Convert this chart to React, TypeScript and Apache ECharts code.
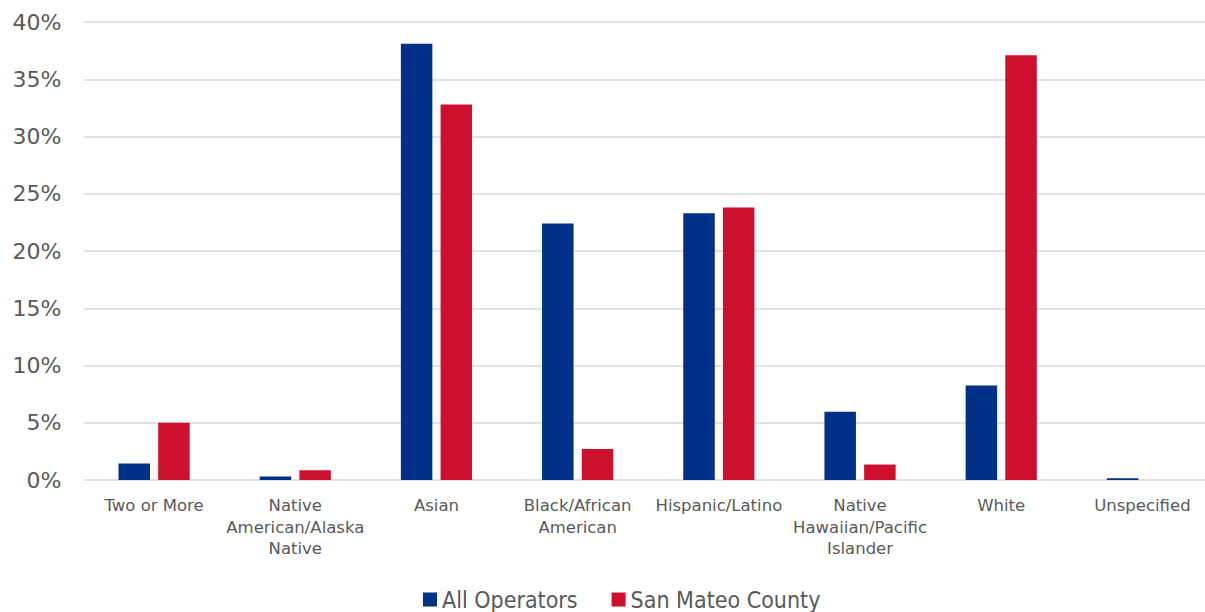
import React, { useEffect, useRef } from "react";
import * as echarts from "echarts";

// Share of each race/ethnicity group, in percent
const categories = [
  "Two or More",
  "Native\nAmerican/Alaska\nNative",
  "Asian",
  "Black/African\nAmerican",
  "Hispanic/Latino",
  "Native\nHawaiian/Pacific\nIslander",
  "White",
  "Unspecified",
];
const allOperators = [1.45, 0.3, 38.1, 22.4, 23.3, 5.95, 8.25, 0.15];
const sanMateoCounty = [5.0, 0.85, 32.8, 2.7, 23.8, 1.35, 37.1, 0];
const yTicks = { min: 0, max: 40, interval: 5 };

const BLUE = "#003087";
const RED = "#CE0F2E";
const TEXT = "#595959";

export default function App() {
  const ref = useRef<HTMLDivElement>(null);

  useEffect(() => {
    if (!ref.current) return;
    const chart = echarts.init(ref.current, null, { renderer: "svg" });
    chart.setOption({
      animation: false,
      backgroundColor: "#ffffff",
      // plot runs slightly past the visible right edge
      grid: { left: 83.5, top: 22, right: 0, bottom: 132 },
      legend: {
        left: 418,
        top: 583,
        itemWidth: 14,
        itemHeight: 14,
        itemGap: 34,
        icon: "rect",
        textStyle: {
          fontFamily: "'DejaVu Sans Condensed', 'DejaVu Sans', sans-serif",
          fontSize: 23,
          color: TEXT,
        },
        data: ["All Operators", "San Mateo County"],
      },
      xAxis: {
        type: "category",
        data: categories,
        axisLine: { show: false },
        axisTick: { show: false },
        axisLabel: {
          interval: 0,
          color: TEXT,
          fontFamily: "'DejaVu Sans', sans-serif",
          fontSize: 16.5,
          lineHeight: 21.5,
          margin: 15,
        },
      },
      yAxis: {
        type: "value",
        min: yTicks.min,
        max: yTicks.max,
        interval: yTicks.interval,
        axisLabel: {
          formatter: "{value}%",
          color: TEXT,
          fontFamily: "'DejaVu Sans', sans-serif",
          fontSize: 22,
          margin: 22,
        },
        splitLine: { lineStyle: { color: "#D9D9D9", width: 1.5 } },
      },
      series: [
        {
          name: "All Operators",
          type: "bar",
          data: allOperators,
          barWidth: 31.5,
          barGap: "26%",
          itemStyle: { color: BLUE },
        },
        {
          name: "San Mateo County",
          type: "bar",
          data: sanMateoCounty,
          barWidth: 31.5,
          barGap: "26%",
          itemStyle: { color: RED },
        },
      ],
    });
    return () => chart.dispose();
  }, []);

  return (
    <div
      style={{
        position: "fixed",
        left: 0,
        top: 0,
        width: 1205,
        height: 612,
        overflow: "hidden",
        background: "#ffffff",
      }}
    >
      <div ref={ref} style={{ width: 1213, height: 612 }} />
    </div>
  );
}
